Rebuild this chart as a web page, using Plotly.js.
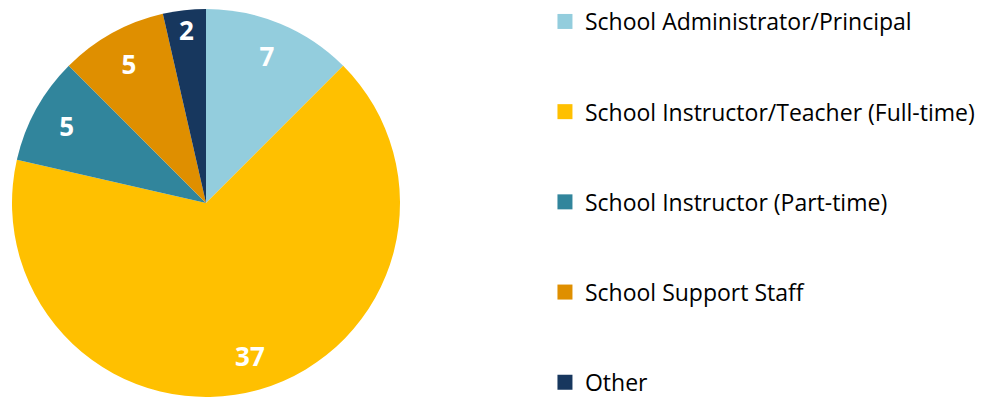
<!DOCTYPE html>
<html>
<head>
<meta charset="utf-8">
<script src="https://cdn.plot.ly/plotly-3.0.1.min.js"></script>
<style>html,body{margin:0;padding:0;background:#fff;}#chart{width:997px;height:400px;}</style>
</head>
<body>
<div id="chart"></div>
<script>
var categories = [
  "School Administrator/Principal",
  "School Instructor/Teacher (Full-time)",
  "School Instructor (Part-time)",
  "School Support Staff",
  "Other"
];
var values = [7, 37, 5, 5, 2];
var colors = ["#93CDDD", "#FFC000", "#31859C", "#DF8F00", "#17375E"];

var pieDomain = {x: [0, 412/997], y: [0, 1]};

var traces = [{
  type: "pie",
  values: values,
  labels: categories,
  sort: false,
  direction: "clockwise",
  rotation: 0,
  marker: {colors: colors, line: {width: 0}},
  textinfo: "none",
  showlegend: false,
  hoverinfo: "label+value",
  domain: pieDomain
}, {
  // transparent ring carrying the value labels further out, as in the reference
  type: "pie",
  values: values,
  labels: categories,
  sort: false,
  direction: "clockwise",
  rotation: 0,
  hole: 0.64,
  marker: {colors: categories.map(function () { return "rgba(0,0,0,0)"; }), line: {width: 0}},
  textinfo: "value",
  textposition: "inside",
  insidetextorientation: "horizontal",
  textfont: {family: "Open Sans, sans-serif", size: 26, color: "#ffffff", weight: "bold"},
  showlegend: false,
  hoverinfo: "skip",
  domain: pieDomain
}];

// legend entries built from the same arrays
categories.forEach(function (c, i) {
  traces.push({
    type: "scatter",
    mode: "markers",
    x: [null], y: [null],
    name: c,
    legendgroup: "g" + i,
    marker: {symbol: "square", size: 15, color: colors[i]},
    showlegend: true,
    hoverinfo: "skip"
  });
});

var layout = {
  width: 997, height: 400,
  margin: {l: 0, r: 0, t: 9, b: 3},
  paper_bgcolor: "#ffffff",
  plot_bgcolor: "#ffffff",
  xaxis: {visible: false},
  yaxis: {visible: false},
  showlegend: true,
  legend: {
    x: 0.5466, y: 1.018, xanchor: "left", yanchor: "top",
    traceorder: "grouped",
    tracegroupgap: 57.3,
    maxheight: 1,
    font: {family: "Open Sans, sans-serif", size: 23, color: "#000000"},
    itemwidth: 30,
    bgcolor: "rgba(0,0,0,0)"
  }
};

Plotly.newPlot("chart", traces, layout, {displayModeBar: false, staticPlot: true});
</script>
</body>
</html>
